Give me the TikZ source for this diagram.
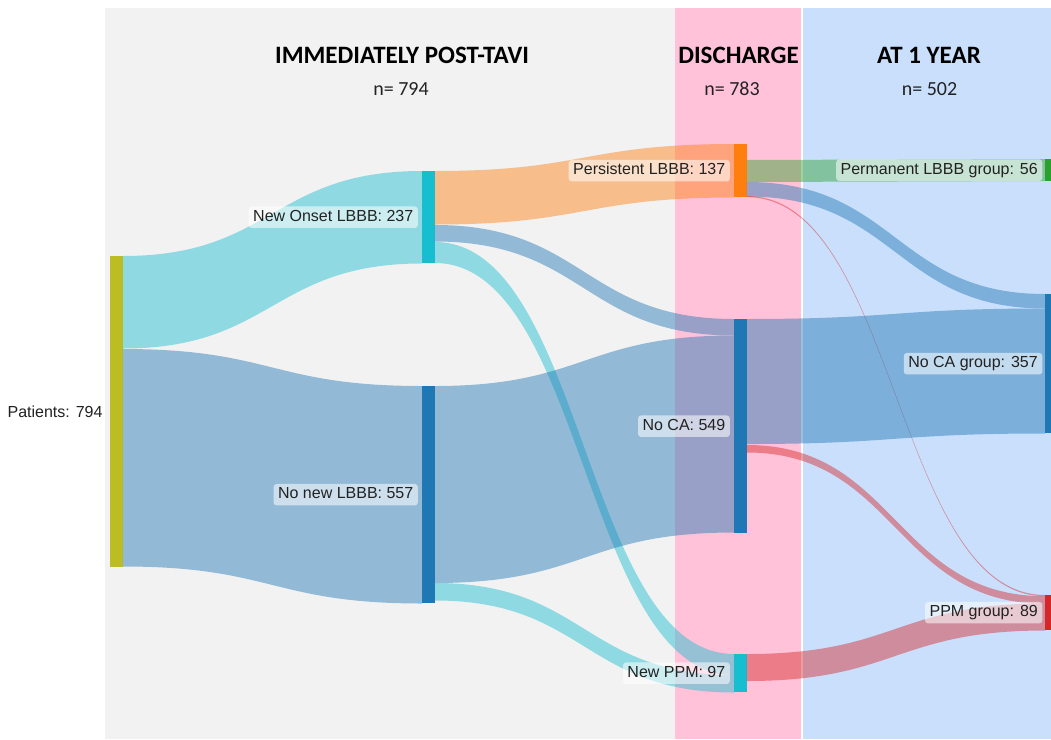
\documentclass[tikz,border=0pt]{standalone}
\usepackage{fontspec}
\setmainfont{Liberation Sans}
\newfontfamily\calfont{Carlito}
\usetikzlibrary{calc}
\definecolor{cOlive}{RGB}{188,189,34}
\definecolor{cCyan}{RGB}{23,190,207}
\definecolor{cBlue}{RGB}{31,119,180}
\definecolor{cOrange}{RGB}{255,127,14}
\definecolor{cGreen}{RGB}{44,160,44}
\definecolor{cRed}{RGB}{214,39,40}
\definecolor{bgGray}{RGB}{242,242,242}
\definecolor{bgPink}{RGB}{255,194,216}
\definecolor{bgBlue}{RGB}{201,223,252}
\definecolor{txt}{RGB}{34,34,34}
% source node, offset from its top, target node, offset from its top, thickness, colour
\newcommand{\sklink}[6]{%
  \fill[#6, fill opacity=0.45] let \p1=([yshift=-#2pt]#1.north east),
       \p2=([yshift=-#4pt]#3.north west),
       \p3=($(\p1)!0.5!(\p2)$) in
  (\p1) .. controls (\x3,\y1) and (\x3,\y2) .. (\p2)
  -- (\x2,{\y2-#5pt})
  .. controls (\x3,{\y2-#5pt}) and (\x3,{\y1-#5pt}) .. (\x1,{\y1-#5pt}) -- cycle;
}
\begin{document}
\begin{tikzpicture}[x=1pt,y=-1pt,
  bar/.style={rectangle, inner sep=0pt, minimum width=12.5pt, anchor=north west, draw=none},
  lbl/.style={fill=white, fill opacity=0.55, text opacity=1, text=txt, rounded corners=3pt,
    inner xsep=4.5pt, inner ysep=3.5pt, anchor=east, text height=11.5pt, text depth=3pt,
    font=\fontsize{16}{18}\selectfont},
  ttl/.style={anchor=base, text=black, font=\calfont\bfseries\fontsize{25}{29}\selectfont},
  cnt/.style={anchor=base, text=txt, font=\calfont\fontsize{20}{24}\selectfont}]
\clip (0,0) rectangle (1051,739);
\fill[white] (0,0) rectangle (1051,739);
\fill[bgGray] (105,8) rectangle (675,739);
\fill[bgPink] (675,8) rectangle (801,739);
\fill[bgBlue] (803,8) rectangle (1051,739);

% bars
\node[bar, fill=cOlive, minimum height=311pt] (pat) at (110,256) {};
\node[bar, fill=cCyan, minimum height=92pt] (on) at (422,171) {};
\node[bar, fill=cBlue, minimum height=217pt] (nn) at (422,386) {};
\node[bar, fill=cOrange, minimum height=53pt] (pl) at (734,144) {};
\node[bar, fill=cBlue, minimum height=214pt] (nca) at (734,319) {};
\node[bar, fill=cCyan, minimum height=38pt] (ppm) at (734,654) {};
\node[bar, fill=cGreen, minimum height=22pt] (plg) at (1045,159) {};
\node[bar, fill=cBlue, minimum height=139pt] (ncag) at (1045,294) {};
\node[bar, fill=cRed, minimum height=35pt] (ppmg) at (1045,595) {};

% links
\sklink{pat}{0}{on}{0}{92.5}{cCyan}
\sklink{pat}{93}{nn}{0}{217.5}{cBlue}
\sklink{on}{0}{pl}{0}{53.5}{cOrange}
\sklink{on}{54}{nca}{0}{16.5}{cBlue}
\sklink{on}{71}{ppm}{0}{21}{cCyan}
\sklink{nn}{0}{nca}{16.5}{197}{cBlue}
\sklink{nn}{197}{ppm}{21}{17.5}{cCyan}
\sklink{pl}{16}{plg}{0}{22}{cGreen}
\sklink{pl}{38}{ncag}{0}{14.5}{cBlue}
\sklink{pl}{52}{ppmg}{0}{1.2}{cRed}
\sklink{nca}{0}{ncag}{14.5}{125}{cBlue}
\sklink{nca}{126}{ppmg}{1.2}{7.5}{cRed}
\sklink{ppm}{0}{ppmg}{8.5}{27}{cRed}

% labels
\node[anchor=east, text=txt, font=\fontsize{16}{18}\selectfont] (lpat) at ([xshift=-4pt]pat.west) {Patients: 794};
\node[lbl] (lon) at ([xshift=-4pt]on.west) {New Onset LBBB: 237};
\node[lbl] (lnn) at ([xshift=-4pt]nn.west) {No new LBBB: 557};
\node[lbl] (lpl) at ([xshift=-4pt]pl.west) {Persistent LBBB: 137};
\node[lbl] (lnca) at ([xshift=-4pt]nca.west) {No CA: 549};
\node[lbl] (lppm) at ([xshift=-4pt]ppm.west) {New PPM: 97};
\node[lbl] (lplg) at ([xshift=-2.5pt]plg.west) {Permanent LBBB group: 56};
\node[lbl] (lncag) at ([xshift=-2.5pt]ncag.west) {No CA group: 357};
\node[lbl] (lppmg) at ([xshift=-2.5pt]ppmg.west) {PPM group: 89};

% titles
\node[ttl] (t1) at (402,63) {IMMEDIATELY POST-TAVI};
\node[cnt] (n1) at (401,95) {n= 794};
\node[ttl] (t2) at (738.5,63) {DISCHARGE};
\node[cnt] (n2) at (732,95) {n= 783};
\node[ttl] (t3) at (929,63) {AT 1 YEAR};
\node[cnt] (n3) at (929.5,95) {n= 502};
\end{tikzpicture}
\end{document}
